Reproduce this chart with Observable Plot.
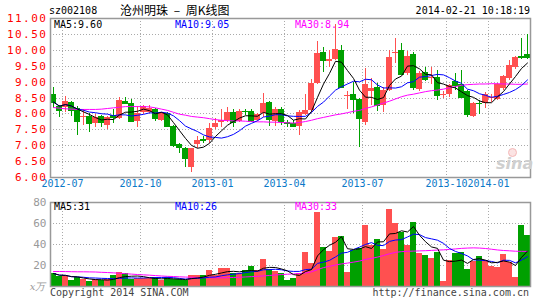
<!DOCTYPE html>
<html><head><meta charset="utf-8">
<script src="https://cdn.jsdelivr.net/npm/d3@7"></script>
<script src="https://cdn.jsdelivr.net/npm/@observablehq/plot@0.6"></script>
<style>
body{margin:0;background:#fff;}
#wrap{position:relative;width:545px;height:300px;overflow:hidden;font-family:"DejaVu Sans Mono",monospace;}
.t{position:absolute;white-space:nowrap;font-size:10px;line-height:10px;}
#wrap svg{position:absolute;left:0;background:transparent;overflow:visible;}
.eye{position:absolute;left:508px;top:148px;width:7px;height:7px;border-radius:50%;border:1.5px solid #f4b8b8;background:#fbe3e3;}
</style></head><body><div id="wrap"><div class="eye"></div></div>
<script>
// ---- data (weekly candles, index 0..79) ----
const opens  = [8.61,8.24,8.19,8.37,8.18,7.90,7.92,7.69,7.92,7.64,7.95,7.84,8.40,8.34,7.77,8.03,8.05,8.13,7.79,8.00,
                7.61,7.04,6.90,6.32,7.04,7.20,7.16,7.58,7.74,7.79,8.04,7.77,8.09,8.08,7.79,8.00,8.37,7.77,8.14,7.72,
                7.70,7.59,7.99,8.10,8.96,9.92,9.64,9.71,9.99,8.56,8.61,8.45,7.72,8.72,8.82,8.25,8.75,9.90,10.00,9.27,
                9.87,8.78,9.30,9.12,9.13,8.58,8.60,9.02,8.91,8.70,7.91,8.34,8.33,8.50,8.46,8.81,9.12,9.46,9.81,9.86];
const highs  = [8.84,8.26,8.55,8.38,8.22,8.14,8.00,7.98,7.95,7.92,8.15,8.51,8.53,8.44,8.23,8.27,8.25,8.17,8.05,8.05,
                7.63,7.08,6.95,6.90,7.29,7.29,7.69,7.84,8.13,8.19,8.14,8.15,8.14,8.15,8.02,8.65,8.40,8.19,8.19,7.79,
                7.79,8.10,8.60,9.07,10.27,10.10,10.00,10.81,10.15,8.70,8.98,8.48,9.42,9.10,8.95,8.82,10.00,10.37,10.22,9.95,
                9.93,9.32,9.45,9.45,9.38,8.69,8.94,9.27,9.35,8.75,8.36,8.41,8.67,8.62,8.96,9.20,9.67,9.79,10.38,10.49];
const lows   = [8.16,7.90,8.05,7.92,7.32,7.64,7.43,7.58,7.58,7.50,7.69,7.81,8.30,7.74,7.58,7.97,8.00,7.75,7.75,7.58,
                6.95,6.74,6.32,6.17,6.90,7.06,7.06,7.50,7.58,7.74,7.58,7.74,7.95,7.74,7.75,7.90,7.60,7.60,7.63,7.58,
                7.56,7.31,7.96,8.03,8.92,9.30,9.46,9.67,8.79,8.15,8.01,6.94,7.65,8.25,8.08,8.05,8.69,9.60,9.21,9.22,
                8.75,8.71,9.01,8.92,8.43,8.48,8.52,8.73,8.49,7.89,7.89,7.99,8.18,8.36,8.41,8.75,9.06,9.41,9.72,9.72];
const closes = [8.37,8.12,8.39,8.11,7.77,7.93,7.71,7.90,7.74,7.88,7.88,8.42,8.34,7.77,8.00,8.22,8.18,7.84,8.00,7.61,
                7.00,6.93,6.61,6.90,7.16,7.17,7.53,7.69,7.79,8.04,7.74,8.08,8.06,7.77,7.98,8.34,7.81,8.14,7.77,7.69,
                7.60,8.04,8.10,8.96,9.90,9.69,9.71,10.01,8.82,8.58,8.46,7.86,8.91,8.79,8.25,8.75,9.77,9.93,9.24,9.82,
                8.82,9.27,9.09,9.14,8.59,8.60,8.88,8.88,8.52,7.99,8.33,8.32,8.60,8.52,8.91,9.17,9.51,9.77,9.78,9.77];
const volumes = [12.4,9.2,10.2,5.7,8.3,7.0,4.8,7.0,5.4,6.3,10.2,13.3,12.1,7.0,7.3,7.3,8.0,8.3,5.7,8.3,
                 6.5,6.3,6.0,10.8,10.8,10.8,14.9,10.8,17.1,17.1,12.4,12.4,14.9,19.0,14.9,25.7,16.5,14.4,12.0,5.8,
                 7.9,12.7,32.7,21.6,70.8,37.5,33.7,47.0,47.9,13.7,34.3,35.9,58.1,39.0,44.8,35.2,73.3,60.3,51.7,39.0,
                 61.3,31.7,29.5,27.0,32.1,5.1,24.8,31.7,32.1,16.2,23.8,28.6,24.8,19.4,18.4,30.5,23.2,8.3,58.1,48.6];
const ma30Price = [8.20,8.18,8.16,8.15,8.14,8.14,8.14,8.14,8.15,8.17,8.19,8.21,8.23,8.23,8.23,8.23,8.22,8.19,8.15,8.11,
                   8.05,7.99,7.96,7.92,7.90,7.88,7.85,7.82,7.80,7.79,7.78,7.78,7.77,7.76,7.75,7.75,7.74,7.74,7.73,7.72,
                   7.71,7.73,7.76,7.80,7.85,7.89,7.93,7.97,8.00,8.04,8.08,8.11,8.17,8.22,8.28,8.34,8.40,8.47,8.54,8.59,
                   8.62,8.66,8.70,8.73,8.75,8.78,8.82,8.86,8.90,8.92,8.93,8.94,8.94,8.95,8.95,8.94,8.94,8.93,8.93,8.94];
const ma30Vol = [14.3,14.3,14.2,14.1,14.0,14.0,13.9,13.8,13.5,13.3,13.0,12.6,12.2,11.8,11.4,11.1,10.8,10.4,10.0,9.7,
                 9.5,9.2,9.0,8.8,8.6,8.5,8.4,8.3,8.3,8.4,8.6,8.8,9.1,9.4,9.7,10.1,10.5,11.0,11.4,11.7,
                 12.0,12.4,12.9,14.0,16.0,18.0,19.2,20.5,21.5,22.3,23.2,24.2,25.8,26.8,28.0,29.5,31.2,32.5,33.2,33.5,
                 33.7,33.9,34.1,34.4,34.7,34.9,35.3,35.8,36.3,36.6,36.8,36.6,36.2,35.5,34.8,34.3,34.0,33.6,33.5,33.4];
const tickPos    = [1.5, 14.5, 26.5, 38.5, 51.5, 65.5, 72.5];
const tickLabels = ["2012-07","2012-10","2013-01","2013-04","2013-07","2013-10","2014-01"];
const priceTicks = [6,6.5,7,7.5,8,8.5,9,9.5,10,10.5,11];
const volTicks   = [20,40,60,80];
const volUnit    = "x万";
const titleCode = "sz002108", titleName = "沧州明珠 – 周K线图", stamp = "2014-02-21 10:18:19";
const priceLegend = ["MA5:9.60","MA10:9.05","MA30:8.94"];
const volLegend   = ["MA5:31","MA10:26","MA30:33"];
const legendColors = ["#000000","#0000ff","#ff00ff"];
const footLeft = "Copyright 2014 SINA.COM", footRight = "http://finance.sina.com.cn";

const RED = "#ff5050", GREEN = "#00a000";
const candles = closes.map((c, i) => ({i, open: opens[i], high: highs[i], low: lows[i], close: c,
  vol: volumes[i], ma30: ma30Price[i], ma30v: ma30Vol[i], up: c >= opens[i]}));
const col = d => d.up ? RED : GREEN;
const half = 0.42;
const grid = {stroke: "#aaa", strokeDasharray: "1,2", shapeRendering: "crispEdges"};
const font = "DejaVu Sans Mono, monospace";
const ticks = tickPos.map((p, k) => ({p, label: tickLabels[k]}));

const wrap = document.getElementById("wrap");

const priceChart = Plot.plot({
  width: 545, height: 192, marginLeft: 50, marginRight: 15, marginTop: 18, marginBottom: 15,
  x: {domain: [-0.5, 79.5], axis: null},
  y: {domain: [6, 11], axis: null},
  style: {fontFamily: font, background: "transparent"},
  marks: [
    Plot.ruleY(priceTicks.slice(1, -1), grid),
    Plot.ruleX(tickPos, grid),
    Plot.ruleX(candles, {x: "i", y1: "low", y2: "high", stroke: col, shapeRendering: "crispEdges"}),
    Plot.rect(candles, {x1: d => d.i - half, x2: d => d.i + half, y1: "open", y2: "close", fill: col, shapeRendering: "crispEdges"}),
    Plot.ruleY(candles, {y: "close", x1: d => d.i - half, x2: d => d.i + half, stroke: col, shapeRendering: "crispEdges"}),
    Plot.line(candles, {x: "i", y: "ma30", stroke: "#ff00ff", strokeWidth: 1}),
    Plot.lineY(candles, Plot.windowY({k: 10, anchor: "end", reduce: "mean", strict: false}, {x: "i", y: "close", stroke: "#0000ff", strokeWidth: 1})),
    Plot.lineY(candles, Plot.windowY({k: 5, anchor: "end", reduce: "mean", strict: false}, {x: "i", y: "close", stroke: "#000000", strokeWidth: 1})),
    Plot.frame({stroke: "#999", strokeWidth: 1.5}),
    Plot.text(priceTicks, {y: d => d, text: d => d.toFixed(2), frameAnchor: "left", textAnchor: "end", dx: -3, fill: "#ff0000", fontSize: 11}),
    Plot.text(ticks, {x: "p", text: "label", frameAnchor: "bottom", dy: 9, fill: "#0a78c8", fontSize: 10})
  ]
});
priceChart.style.top = "0px";
d3.select(priceChart).selectAll('g[fill="#ff0000"] text').style("letter-spacing", "1.5px");
wrap.appendChild(priceChart);

const volChart = Plot.plot({
  width: 545, height: 108, marginLeft: 50, marginRight: 15, marginTop: 10, marginBottom: 14,
  x: {domain: [-0.5, 79.5], axis: null},
  y: {domain: [0, 80], axis: null},
  style: {fontFamily: font, background: "transparent"},
  marks: [
    Plot.ruleY(volTicks.slice(0, -1), grid),
    Plot.ruleX(tickPos, grid),
    Plot.rect(candles, {x1: d => d.i - half, x2: d => d.i + half, y1: 0, y2: "vol", fill: col, shapeRendering: "crispEdges"}),
    Plot.line(candles, {x: "i", y: "ma30v", stroke: "#ff00ff", strokeWidth: 1}),
    Plot.lineY(candles, Plot.windowY({k: 10, anchor: "end", reduce: "mean", strict: false}, {x: "i", y: "vol", stroke: "#0000ff", strokeWidth: 1})),
    Plot.lineY(candles, Plot.windowY({k: 5, anchor: "end", reduce: "mean", strict: false}, {x: "i", y: "vol", stroke: "#000000", strokeWidth: 1})),
    Plot.frame({stroke: "#999", strokeWidth: 1.5}),
    Plot.text(volTicks, {y: d => d, text: d => String(d), frameAnchor: "left", textAnchor: "end", dx: -4, fill: "#999", fontSize: 11}),
    Plot.text([0], {y: d => d, text: () => volUnit, frameAnchor: "left", textAnchor: "end", dx: -5, fill: "#999", fontSize: 10, fontFamily: "DejaVu Serif, serif", fontStyle: "italic"})
  ]
});
volChart.style.top = "192px";
wrap.appendChild(volChart);

// ---- text labels ----
function addText(txt, css) {
  const d = document.createElement("div");
  d.className = "t";
  d.textContent = txt;
  Object.assign(d.style, css);
  wrap.appendChild(d);
}
addText(titleCode, {left: "49px", top: "6px", color: "#000"});
addText(titleName, {left: "120px", top: "3px", color: "#000", fontSize: "12px", lineHeight: "13px", fontFamily: "'Noto Sans CJK SC', sans-serif", wordSpacing: "3px"});
addText(stamp, {right: "15px", top: "6px", color: "#000"});
const legX = ["54px", "175px", "295px"];
priceLegend.forEach((s, k) => addText(s, {left: legX[k], top: "20px", color: legendColors[k]}));
volLegend.forEach((s, k) => addText(s, {left: legX[k], top: "202px", color: legendColors[k]}));
addText(footLeft, {left: "50px", top: "288px", color: "#444"});
addText(footRight, {right: "16px", top: "288px", color: "#444"});
addText("sina", {left: "496px", top: "155px", fontSize: "16px", lineHeight: "18px", fontWeight: "bold", fontStyle: "italic", color: "#cfcfcf", fontFamily: "'DejaVu Sans', sans-serif"});
</script></body></html>
